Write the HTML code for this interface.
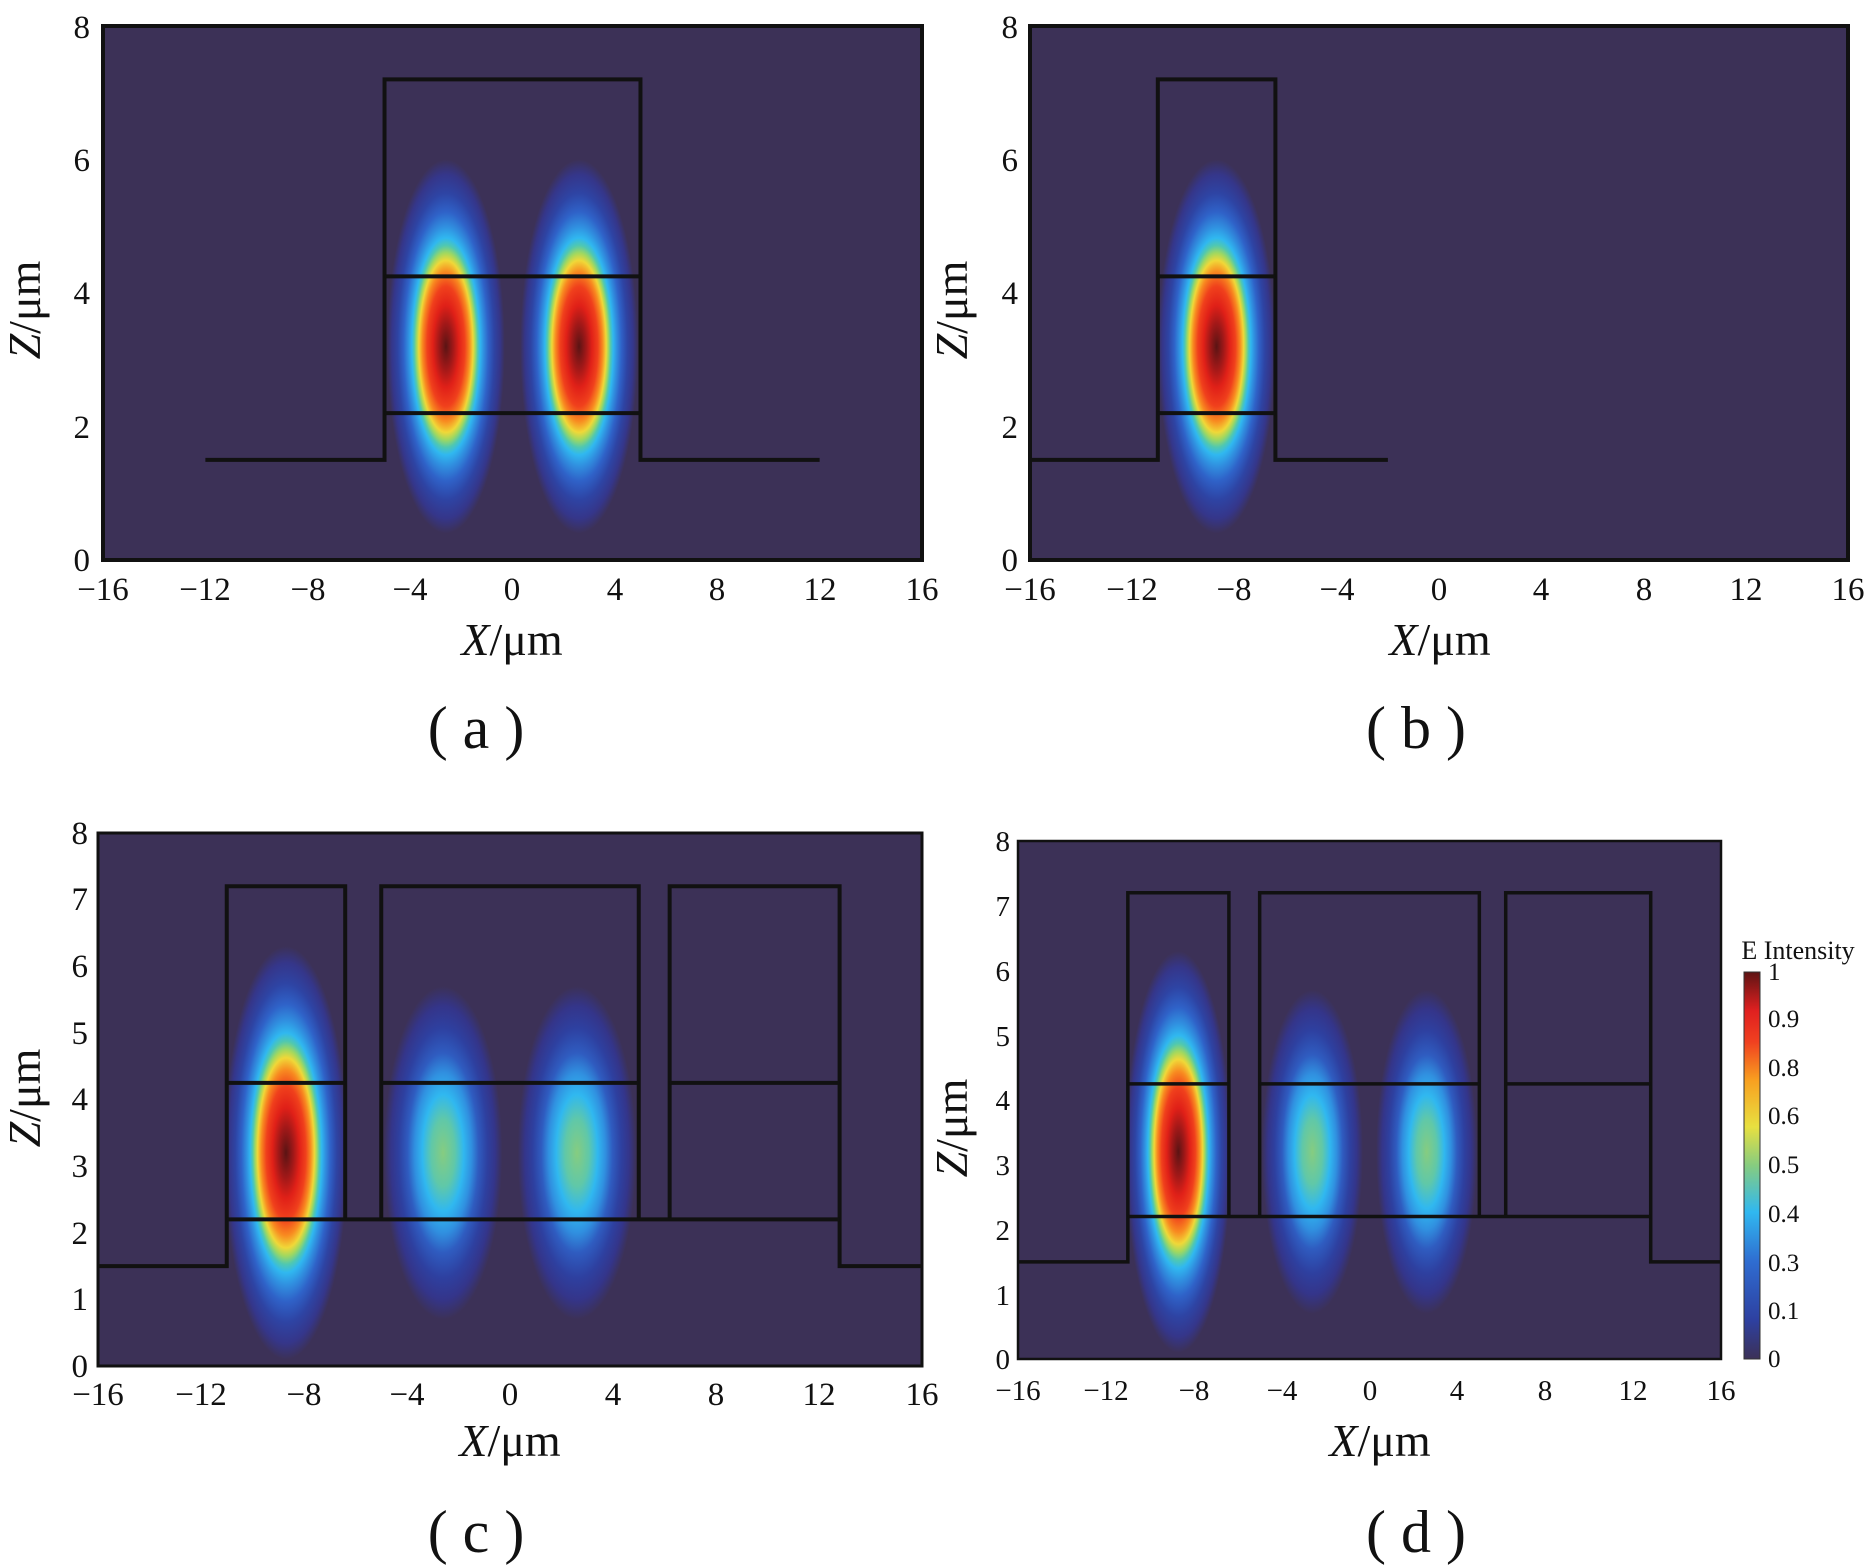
<!DOCTYPE html>
<html><head><meta charset="utf-8"><style>
html,body{margin:0;padding:0;background:#fff}
svg{display:block}
text{font-family:"Liberation Serif",serif;fill:#111}
</style></head><body>
<svg width="1872" height="1568" viewBox="0 0 1872 1568" xmlns="http://www.w3.org/2000/svg">
<defs>
<radialGradient id="gA">
<stop offset="0" stop-color="#5a1414"/>
<stop offset="0.12" stop-color="#a01818"/>
<stop offset="0.22" stop-color="#e02018"/>
<stop offset="0.32" stop-color="#f0401c"/>
<stop offset="0.40" stop-color="#f88a20"/>
<stop offset="0.46" stop-color="#f0d838"/>
<stop offset="0.50" stop-color="#a0d860"/>
<stop offset="0.54" stop-color="#50c8b0"/>
<stop offset="0.58" stop-color="#30b8f0"/>
<stop offset="0.64" stop-color="#3090e0"/>
<stop offset="0.72" stop-color="#2f62c8"/>
<stop offset="0.82" stop-color="#2e44a4"/>
<stop offset="0.92" stop-color="#35368a"/>
<stop offset="1" stop-color="#3c3157"/>
</radialGradient>
<radialGradient id="gB">
<stop offset="0" stop-color="#86cc80"/>
<stop offset="0.2" stop-color="#60c8a8"/>
<stop offset="0.35" stop-color="#30b8f0"/>
<stop offset="0.48" stop-color="#3090e0"/>
<stop offset="0.6" stop-color="#2f5cc0"/>
<stop offset="0.75" stop-color="#2e40a0"/>
<stop offset="0.88" stop-color="#34358a"/>
<stop offset="1" stop-color="#3c3157"/>
</radialGradient>
<linearGradient id="cb" x1="0" y1="1" x2="0" y2="0">
<stop offset="0" stop-color="#3c3157"/>
<stop offset="0.1" stop-color="#2e40a0"/>
<stop offset="0.25" stop-color="#2f6cd0"/>
<stop offset="0.38" stop-color="#30b8f0"/>
<stop offset="0.5" stop-color="#86cc80"/>
<stop offset="0.6" stop-color="#e8e040"/>
<stop offset="0.72" stop-color="#f8a020"/>
<stop offset="0.82" stop-color="#f04020"/>
<stop offset="0.9" stop-color="#e02020"/>
<stop offset="1" stop-color="#5e1414"/>
</linearGradient>
</defs>

<!-- Panel A -->
<svg x="103" y="26" width="819" height="534" viewBox="-16 -8 32 8" preserveAspectRatio="none">
<rect x="-16" y="-8" width="32" height="8" fill="#3c3157"/>
<ellipse cx="-2.6" cy="-3.2" rx="2.3" ry="2.8" fill="url(#gA)"/>
<ellipse cx="2.6" cy="-3.2" rx="2.3" ry="2.8" fill="url(#gA)"/>
<g fill="none" stroke="#111" stroke-width="4">
<polyline vector-effect="non-scaling-stroke" points="-12,-1.5 -5,-1.5 -5,-7.2 5,-7.2 5,-1.5 12,-1.5"/>
<line vector-effect="non-scaling-stroke" x1="-5" y1="-4.25" x2="5" y2="-4.25"/>
<line vector-effect="non-scaling-stroke" x1="-5" y1="-2.2" x2="5" y2="-2.2"/>
</g>
</svg>
<rect x="103" y="26" width="819" height="534" fill="none" stroke="#111" stroke-width="4"/>

<!-- Panel B -->
<svg x="1030" y="26" width="818" height="534" viewBox="-16 -8 32 8" preserveAspectRatio="none">
<rect x="-16" y="-8" width="32" height="8" fill="#3c3157"/>
<ellipse cx="-8.7" cy="-3.2" rx="2.3" ry="2.8" fill="url(#gA)"/>
<g fill="none" stroke="#111" stroke-width="4">
<polyline vector-effect="non-scaling-stroke" points="-16,-1.5 -11,-1.5 -11,-7.2 -6.4,-7.2 -6.4,-1.5 -2,-1.5"/>
<line vector-effect="non-scaling-stroke" x1="-11" y1="-4.25" x2="-6.4" y2="-4.25"/>
<line vector-effect="non-scaling-stroke" x1="-11" y1="-2.2" x2="-6.4" y2="-2.2"/>
</g>
</svg>
<rect x="1030" y="26" width="818" height="534" fill="none" stroke="#111" stroke-width="4"/>

<!-- Panel C -->
<svg x="98" y="833" width="824" height="533" viewBox="-16 -8 32 8" preserveAspectRatio="none">
<rect x="-16" y="-8" width="32" height="8" fill="#3c3157"/>
<ellipse cx="-8.7" cy="-3.2" rx="2.4" ry="3.1" fill="url(#gA)"/>
<ellipse cx="-2.6" cy="-3.2" rx="2.3" ry="2.5" fill="url(#gB)"/>
<ellipse cx="2.6" cy="-3.2" rx="2.3" ry="2.5" fill="url(#gB)"/>
<g fill="none" stroke="#111" stroke-width="4">
<polyline vector-effect="non-scaling-stroke" points="-16,-1.5 -11,-1.5 -11,-7.2 -6.4,-7.2 -6.4,-2.2"/>
<polyline vector-effect="non-scaling-stroke" points="-5,-2.2 -5,-7.2 5,-7.2 5,-2.2"/>
<polyline vector-effect="non-scaling-stroke" points="6.2,-2.2 6.2,-7.2 12.8,-7.2 12.8,-1.5 16,-1.5"/>
<line vector-effect="non-scaling-stroke" x1="-11" y1="-2.2" x2="12.8" y2="-2.2"/>
<line vector-effect="non-scaling-stroke" x1="-11" y1="-4.25" x2="-6.4" y2="-4.25"/>
<line vector-effect="non-scaling-stroke" x1="-5" y1="-4.25" x2="5" y2="-4.25"/>
<line vector-effect="non-scaling-stroke" x1="6.2" y1="-4.25" x2="12.8" y2="-4.25"/>
</g>
</svg>
<rect x="98" y="833" width="824" height="533" fill="none" stroke="#111" stroke-width="3"/>

<!-- Panel D -->
<svg x="1018" y="841" width="703" height="518" viewBox="-16 -8 32 8" preserveAspectRatio="none">
<rect x="-16" y="-8" width="32" height="8" fill="#3c3157"/>
<ellipse cx="-8.7" cy="-3.2" rx="2.4" ry="3.1" fill="url(#gA)"/>
<ellipse cx="-2.6" cy="-3.2" rx="2.3" ry="2.5" fill="url(#gB)"/>
<ellipse cx="2.6" cy="-3.2" rx="2.3" ry="2.5" fill="url(#gB)"/>
<g fill="none" stroke="#111" stroke-width="3.5">
<polyline vector-effect="non-scaling-stroke" points="-16,-1.5 -11,-1.5 -11,-7.2 -6.4,-7.2 -6.4,-2.2"/>
<polyline vector-effect="non-scaling-stroke" points="-5,-2.2 -5,-7.2 5,-7.2 5,-2.2"/>
<polyline vector-effect="non-scaling-stroke" points="6.2,-2.2 6.2,-7.2 12.8,-7.2 12.8,-1.5 16,-1.5"/>
<line vector-effect="non-scaling-stroke" x1="-11" y1="-2.2" x2="12.8" y2="-2.2"/>
<line vector-effect="non-scaling-stroke" x1="-11" y1="-4.25" x2="-6.4" y2="-4.25"/>
<line vector-effect="non-scaling-stroke" x1="-5" y1="-4.25" x2="5" y2="-4.25"/>
<line vector-effect="non-scaling-stroke" x1="6.2" y1="-4.25" x2="12.8" y2="-4.25"/>
</g>
</svg>
<rect x="1018" y="841" width="703" height="518" fill="none" stroke="#111" stroke-width="2.5"/>

<!-- Tick labels A -->
<g font-size="33" text-anchor="middle">
<text x="103" y="600">−16</text><text x="205" y="600">−12</text><text x="308" y="600">−8</text><text x="410" y="600">−4</text><text x="512" y="600">0</text><text x="615" y="600">4</text><text x="717" y="600">8</text><text x="820" y="600">12</text><text x="922" y="600">16</text>
</g>
<g font-size="33" text-anchor="end">
<text x="90" y="571">0</text><text x="90" y="438">2</text><text x="90" y="304">4</text><text x="90" y="171">6</text><text x="90" y="38">8</text>
</g>
<text x="512" y="655" font-size="46" text-anchor="middle"><tspan font-style="italic">X</tspan>/μm</text>
<text transform="translate(40,310) rotate(-90)" font-size="46" text-anchor="middle"><tspan font-style="italic">Z</tspan>/μm</text>
<text x="476" y="748" font-size="60" text-anchor="middle">( a )</text>

<!-- Tick labels B -->
<g font-size="33" text-anchor="middle">
<text x="1030" y="600">−16</text><text x="1132" y="600">−12</text><text x="1234" y="600">−8</text><text x="1337" y="600">−4</text><text x="1439" y="600">0</text><text x="1541" y="600">4</text><text x="1644" y="600">8</text><text x="1746" y="600">12</text><text x="1848" y="600">16</text>
</g>
<g font-size="33" text-anchor="end">
<text x="1018" y="571">0</text><text x="1018" y="438">2</text><text x="1018" y="304">4</text><text x="1018" y="171">6</text><text x="1018" y="38">8</text>
</g>
<text x="1440" y="655" font-size="46" text-anchor="middle"><tspan font-style="italic">X</tspan>/μm</text>
<text transform="translate(967,310) rotate(-90)" font-size="46" text-anchor="middle"><tspan font-style="italic">Z</tspan>/μm</text>
<text x="1416" y="748" font-size="60" text-anchor="middle">( b )</text>

<!-- Tick labels C -->
<g font-size="33" text-anchor="middle">
<text x="98" y="1405">−16</text><text x="201" y="1405">−12</text><text x="304" y="1405">−8</text><text x="407" y="1405">−4</text><text x="510" y="1405">0</text><text x="613" y="1405">4</text><text x="716" y="1405">8</text><text x="819" y="1405">12</text><text x="922" y="1405">16</text>
</g>
<g font-size="33" text-anchor="end">
<text x="88" y="1377">0</text><text x="88" y="1310">1</text><text x="88" y="1244">2</text><text x="88" y="1177">3</text><text x="88" y="1110">4</text><text x="88" y="1044">5</text><text x="88" y="977">6</text><text x="88" y="910">7</text><text x="88" y="844">8</text>
</g>
<text x="510" y="1456" font-size="46" text-anchor="middle"><tspan font-style="italic">X</tspan>/μm</text>
<text transform="translate(40,1098) rotate(-90)" font-size="46" text-anchor="middle"><tspan font-style="italic">Z</tspan>/μm</text>
<text x="476" y="1552" font-size="60" text-anchor="middle">( c )</text>

<!-- Tick labels D -->
<g font-size="29" text-anchor="middle">
<text x="1018" y="1400">−16</text><text x="1106" y="1400">−12</text><text x="1194" y="1400">−8</text><text x="1282" y="1400">−4</text><text x="1370" y="1400">0</text><text x="1457" y="1400">4</text><text x="1545" y="1400">8</text><text x="1633" y="1400">12</text><text x="1721" y="1400">16</text>
</g>
<g font-size="29" text-anchor="end">
<text x="1010" y="1369">0</text><text x="1010" y="1305">1</text><text x="1010" y="1240">2</text><text x="1010" y="1175">3</text><text x="1010" y="1110">4</text><text x="1010" y="1046">5</text><text x="1010" y="981">6</text><text x="1010" y="916">7</text><text x="1010" y="851">8</text>
</g>
<text x="1380" y="1456" font-size="46" text-anchor="middle"><tspan font-style="italic">X</tspan>/μm</text>
<text transform="translate(967,1128) rotate(-90)" font-size="46" text-anchor="middle"><tspan font-style="italic">Z</tspan>/μm</text>
<text x="1416" y="1552" font-size="60" text-anchor="middle">( d )</text>

<!-- Colorbar -->
<text x="1798" y="959" font-size="26" text-anchor="middle">E Intensity</text>
<rect x="1744" y="972" width="16" height="387" fill="url(#cb)" stroke="#333" stroke-width="1"/>
<g font-size="25" text-anchor="start">
<text x="1768" y="1367">0</text><text x="1768" y="1319">0.1</text><text x="1768" y="1271">0.3</text><text x="1768" y="1222">0.4</text><text x="1768" y="1173">0.5</text><text x="1768" y="1124">0.6</text><text x="1768" y="1076">0.8</text><text x="1768" y="1027">0.9</text><text x="1768" y="980">1</text>
</g>
</svg>
</body></html>
